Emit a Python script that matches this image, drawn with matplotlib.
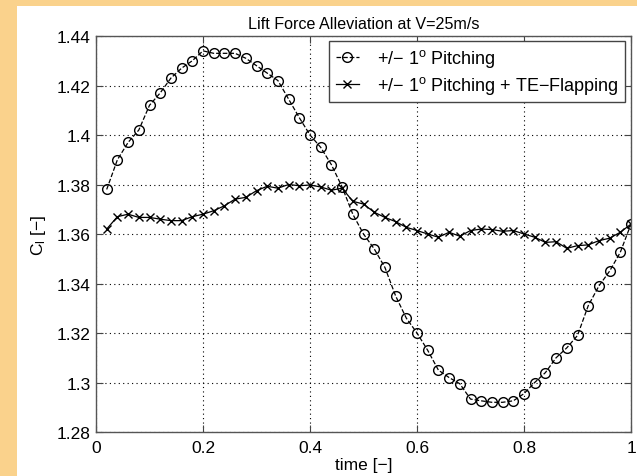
import numpy as np
import matplotlib
matplotlib.use('Agg')
import matplotlib.pyplot as plt
from matplotlib.patches import Rectangle

plt.rcParams['font.family'] = ['Liberation Sans', 'DejaVu Sans']
plt.rcParams['mathtext.fontset'] = 'custom'
plt.rcParams['mathtext.rm'] = 'Liberation Sans'
plt.rcParams['mathtext.it'] = 'Liberation Sans:italic'

# time samples (every 0.02)
time = [0.02, 0.04, 0.06, 0.08, 0.10, 0.12, 0.14, 0.16, 0.18, 0.20,
        0.22, 0.24, 0.26, 0.28, 0.30, 0.32, 0.34, 0.36, 0.38, 0.40,
        0.42, 0.44, 0.46, 0.48, 0.50, 0.52, 0.54, 0.56, 0.58, 0.60,
        0.62, 0.64, 0.66, 0.68, 0.70, 0.72, 0.74, 0.76, 0.78, 0.80,
        0.82, 0.84, 0.86, 0.88, 0.90, 0.92, 0.94, 0.96, 0.98, 1.00]

cl_pitch = [1.378, 1.390, 1.397, 1.402, 1.412, 1.417, 1.423, 1.427, 1.430, 1.434,
            1.433, 1.433, 1.433, 1.431, 1.428, 1.425, 1.422, 1.4145, 1.407, 1.400,
            1.395, 1.388, 1.379, 1.368, 1.360, 1.354, 1.3465, 1.335, 1.326, 1.320,
            1.313, 1.305, 1.302, 1.2995, 1.2933, 1.2926, 1.292, 1.292, 1.2926, 1.2955,
            1.300, 1.304, 1.310, 1.314, 1.319, 1.331, 1.339, 1.345, 1.3526, 1.364]

cl_flap = [1.362, 1.367, 1.368, 1.3667, 1.3667, 1.366, 1.3654, 1.3654, 1.367, 1.368,
           1.3694, 1.3714, 1.3741, 1.3748, 1.3775, 1.3793, 1.3785, 1.380, 1.3795, 1.3798,
           1.379, 1.3777, 1.3785, 1.3732, 1.3721, 1.3688, 1.3667, 1.365, 1.3627, 1.3614,
           1.360, 1.3587, 1.3607, 1.3591, 1.3614, 1.362, 1.3618, 1.3611, 1.3614, 1.360,
           1.3587, 1.3566, 1.3569, 1.3542, 1.3553, 1.3556, 1.3573, 1.3583, 1.3607, 1.364]

xticks = [0, 0.2, 0.4, 0.6, 0.8, 1]
xticklabels = ['0', '0.2', '0.4', '0.6', '0.8', '1']
yticks = [1.28, 1.3, 1.32, 1.34, 1.36, 1.38, 1.4, 1.42, 1.44]
yticklabels = ['1.28', '1.3', '1.32', '1.34', '1.36', '1.38', '1.4', '1.42', '1.44']

fig = plt.figure(figsize=(6.37, 4.77), dpi=100)
fig.patch.set_facecolor('white')
# orange page border on the left and top
orange = '#fad28c'
fig.add_artist(Rectangle((0, 0), 17 / 637, 1, transform=fig.transFigure,
                         facecolor=orange, edgecolor='none', zorder=-5))
fig.add_artist(Rectangle((0, 1 - 7 / 477), 1, 7 / 477, transform=fig.transFigure,
                         facecolor=orange, edgecolor='none', zorder=-5))

ax = fig.add_axes([96 / 637, 44 / 477, 535 / 637, 396 / 477])
ax.plot(time, cl_pitch, '--o', color='black', lw=0.9, ms=7, mfc='none', mew=1.0,
        label='+/\u2212 1$^{\\mathrm{o}}$ Pitching')
ax.plot(time, cl_flap, '-x', color='black', lw=0.9, ms=6, mew=1.0,
        label='+/\u2212 1$^{\\mathrm{o}}$ Pitching + TE\u2212Flapping')

ax.set_xlim(0, 1)
ax.set_ylim(1.28, 1.44)
ax.set_xticks(xticks)
ax.set_xticklabels(xticklabels)
ax.set_yticks(yticks)
ax.set_yticklabels(yticklabels)
ax.tick_params(direction='in', length=5, labelsize=12.5, top=True, right=True,
               color='#444444', pad=4)
ax.tick_params(axis='x', pad=6)
ax.grid(True, linestyle=(0, (1, 3)), color='black', lw=0.8)
for s in ax.spines.values():
    s.set_color('#555555')
    s.set_linewidth(1.0)

ax.set_title('Lift Force Alleviation at V=25m/s', fontsize=11.6, pad=6)
ax.set_xlabel('time [\u2212]', fontsize=12.5, labelpad=1)
ax.set_ylabel('C$_\\mathrm{l}$ [\u2212]', fontsize=12.5, labelpad=6)

leg = ax.legend(loc='upper right', bbox_to_anchor=(0.989, 0.987), fontsize=13,
                fancybox=False, framealpha=1, edgecolor='#444444',
                handlelength=1.3, borderpad=0.35, labelspacing=0.25, handletextpad=1.0,
                borderaxespad=0)
leg.get_frame().set_linewidth(1.0)

fig.savefig('out.png', dpi=100)
